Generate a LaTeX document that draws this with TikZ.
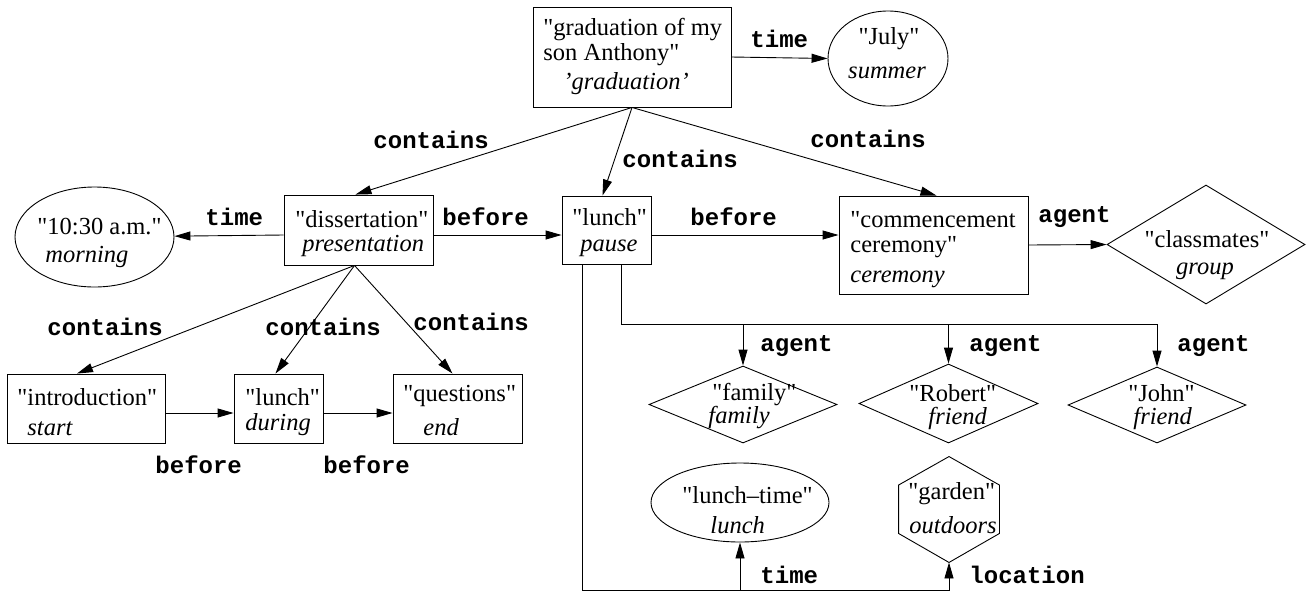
\documentclass[tikz,border=0pt]{standalone}
\usepackage{fontspec}
\newfontfamily\tnr{Liberation Serif}
\newfontfamily\crb{Liberation Mono}
\usetikzlibrary{arrows.meta,shapes.geometric,calc}
\begin{document}
\begin{tikzpicture}[x=1pt,y=-1pt,line width=0.9pt,
  arr/.style={-{Triangle[length=16pt,width=9pt]}},
  boxshape/.style={draw,rectangle,inner sep=0pt},
  ovalshape/.style={draw,ellipse,inner sep=0pt},
  diashape/.style={draw,diamond,inner sep=0pt},
  txt/.style={anchor=base west,inner sep=0pt,font=\tnr\fontsize{24.5}{28}\selectfont},
  itxt/.style={txt,font=\tnr\fontsize{24.5}{28}\selectfont\itshape},
  ctxt/.style={txt,anchor=base},
  citxt/.style={itxt,anchor=base},
  lbl/.style={anchor=base west,inner sep=0pt,font=\crb\bfseries\fontsize{24}{24}\selectfont}]
\useasboundingbox (0,0) rectangle (1314,592);

% shapes
\node[boxshape,minimum width=198pt,minimum height=100pt] (grad) at (632,57) {};
\node[ovalshape,minimum width=120pt,minimum height=95pt] (july) at (888,58.5) {};
\node[ovalshape,minimum width=159pt,minimum height=100pt] (morn) at (94.5,237) {};
\node[boxshape,minimum width=149pt,minimum height=70pt] (diss) at (358.5,230) {};
\node[boxshape,minimum width=89pt,minimum height=68pt] (lunch) at (606.5,230) {};
\node[boxshape,minimum width=189pt,minimum height=98pt] (comm) at (933.5,245) {};
\node[diashape,minimum width=198pt,minimum height=119pt] (class) at (1206,244.5) {};
\node[boxshape,minimum width=158pt,minimum height=69pt] (intro) at (86,408.5) {};
\node[boxshape,minimum width=89pt,minimum height=69pt] (lunchd) at (278.5,408.5) {};
\node[boxshape,minimum width=129pt,minimum height=69pt] (quest) at (457.5,408.5) {};
\node[diashape,minimum width=188pt,minimum height=77pt] (family) at (743,404.5) {};
\node[diashape,minimum width=179pt,minimum height=79pt] (robert) at (948.5,403.5) {};
\node[diashape,minimum width=178pt,minimum height=76pt] (john) at (1157,405) {};
\node[ovalshape,minimum width=178pt,minimum height=79pt] (ltime) at (740,502.5) {};
\node[rectangle,inner sep=0pt,minimum width=100pt,minimum height=105pt] (garden) at (949,509.5) {};
\draw (garden.north) -- ($(garden.north east)+(0,28.5)$) -- ($(garden.south east)+(0,-29)$)
  -- (garden.south) -- ($(garden.south west)+(0,-29)$) -- ($(garden.north west)+(0,28.5)$) -- cycle;

% texts
\node[txt] (gradA) at (543,35) {"graduation of my};
\node[txt] (gradB) at (543,60) {son Anthony"};
\node[itxt] (gradC) at (563,89) {’graduation’};
\node[ctxt] (julyA) at (889,44) {"July"};
\node[citxt] (julyB) at (887,78) {summer};
\node[txt] (mornA) at (37,234) {"10:30 a.m."};
\node[itxt] (mornB) at (45,262) {morning};
\node[txt] (dissA) at (295,227) {"dissertation"};
\node[itxt] (dissB) at (302,251) {presentation};
\node[txt] (lunchA) at (572,225) {"lunch"};
\node[itxt] (lunchB) at (580,251) {pause};
\node[txt] (commA) at (850,227) {"commencement};
\node[txt] (commB) at (850,252) {ceremony"};
\node[itxt] (commC) at (850,282) {ceremony};
\node[ctxt] (classA) at (1207,247) {"classmates"};
\node[citxt] (classB) at (1205,274) {group};
\node[txt] (introA) at (17,405) {"introduction"};
\node[itxt] (introB) at (27,435) {start};
\node[txt] (lunchdA) at (245,405) {"lunch"};
\node[itxt] (lunchdB) at (245,430) {during};
\node[txt] (questA) at (403,401) {"questions"};
\node[itxt] (questB) at (423,435) {end};
\node[txt] (familyA) at (712,400) {"family"};
\node[itxt] (familyB) at (708,423) {family};
\node[txt] (robertA) at (909,401) {"Robert"};
\node[itxt] (robertB) at (928,424) {friend};
\node[txt] (johnA) at (1128,401) {"John"};
\node[itxt] (johnB) at (1133,424) {friend};
\node[txt] (ltimeA) at (682,503) {"lunch–time"};
\node[itxt] (ltimeB) at (710,533) {lunch};
\node[txt] (gardenA) at (908,499) {"garden"};
\node[itxt] (gardenB) at (909,533) {outdoors};

% labels
\node[lbl] (l1) at (750,47) {time};
\node[lbl] (l2) at (205,225) {time};
\node[lbl] (l3) at (373,148) {contains};
\node[lbl] (l4) at (622,167) {contains};
\node[lbl] (l5) at (810,147) {contains};
\node[lbl] (l6) at (442,225) {before};
\node[lbl] (l7) at (690,225) {before};
\node[lbl] (l8) at (1038,222) {agent};
\node[lbl] (l9) at (47,335) {contains};
\node[lbl] (l10) at (265,335) {contains};
\node[lbl] (l11) at (413,330) {contains};
\node[lbl] (l12) at (155,473) {before};
\node[lbl] (l13) at (323,473) {before};
\node[lbl] (l14) at (760,351) {agent};
\node[lbl] (l15) at (969,351) {agent};
\node[lbl] (l16) at (1177,351) {agent};
\node[lbl] (l17) at (760,583) {time};
\node[lbl] (l18) at (969,583) {location};

% connectors
\draw[arr] (grad.east) -- (july.west);
\draw[arr] ([yshift=-5pt]diss.west) -- (morn);
\draw[arr] ([yshift=-5pt]diss.east) -- ([yshift=-5pt]lunch.west);
\draw[arr] ([yshift=-5pt]lunch.east) -- ([yshift=10pt]comm.west);
\draw[arr] (comm.east) -- (class.west);
\draw[arr] (grad.south) -- ([xshift=-3pt]diss.north);
\draw[arr] (grad.south) -- ([xshift=-4pt]lunch.north);
\draw[arr] (grad.south) -- ([xshift=3pt]comm.north);
\draw[arr] ([xshift=-4pt]diss.south) -- ([xshift=-9pt]intro.north);
\draw[arr] ([xshift=-4pt]diss.south) -- ([xshift=-3pt]lunchd.north);
\draw[arr] ([xshift=-4pt]diss.south) -- ([xshift=-5pt]quest.north);
\draw[arr] ([yshift=-4.5pt]intro.east) -- ([yshift=-4.5pt]lunchd.west);
\draw[arr] ([yshift=-4.5pt]lunchd.east) -- ([yshift=-4.5pt]quest.west);
\coordinate (busR) at (621,324);
\coordinate (busL) at (582,590.5);
\draw[arr] ([xshift=14.5pt]lunch.south) -- (busR) -| (john.north);
\draw[arr] (busR -| family.north) -- (family.north);
\draw[arr] (busR -| robert.north) -- (robert.north);
\draw[arr] ([xshift=-24.5pt]lunch.south) -- (busL) -| (garden.south);
\draw[arr] (busL -| ltime.south) -- (ltime.south);
\end{tikzpicture}
\end{document}
